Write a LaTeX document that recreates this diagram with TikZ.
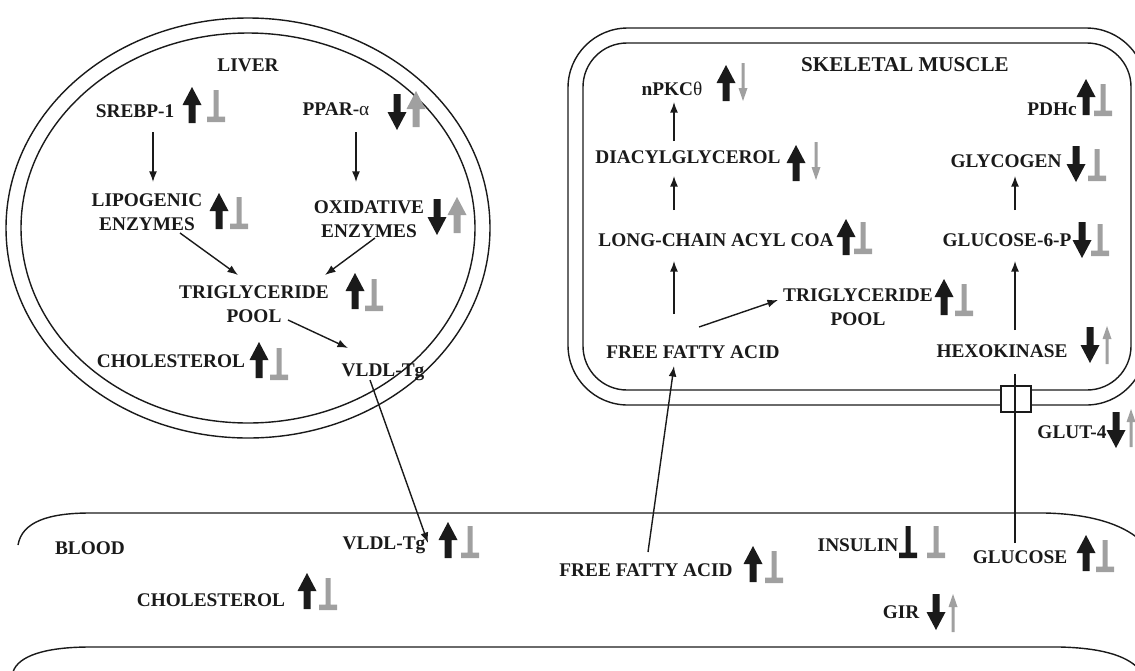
\documentclass[tikz,border=0pt]{standalone}
\usepackage{fontspec}
\setmainfont{Liberation Serif}
\usepackage{xcolor}
\usepackage{tikz}
\usetikzlibrary{math,calc,arrows.meta}
\definecolor{ink}{HTML}{1A1A1A}
\definecolor{pale}{HTML}{A0A0A0}
\tikzset{
	lbl/.style={font=\bfseries\fontsize{11}{14}\selectfont,inner sep=0pt,text depth=0pt,align=center,text=ink},
	flow/.style={-{Latex[length=6pt,width=4.5pt]},line width=0.8pt,draw=ink},
	wall/.style={line width=0.8pt,draw=ink},
	pics/bigup/.style={code={\fill[#1] (0,-18) -- (9.5,0) -- (3.5,0) -- (3.5,18) -- (-3.5,18) -- (-3.5,0) -- (-9.5,0) -- cycle;}},
	pics/bigdown/.style={code={\fill[#1] (0,18) -- (9.5,0) -- (3.5,0) -- (3.5,-18) -- (-3.5,-18) -- (-3.5,0) -- (-9.5,0) -- cycle;}},
	pics/thinup/.style={code={\fill[#1] (0,-19) -- (4.5,-6) -- (1.5,-6) -- (1.5,19) -- (-1.5,19) -- (-1.5,-6) -- (-4.5,-6) -- cycle;}},
	pics/thindown/.style={code={\fill[#1] (0,19) -- (4.5,6) -- (1.5,6) -- (1.5,-19) -- (-1.5,-19) -- (-1.5,6) -- (-4.5,6) -- cycle;}},
	pics/tack/.style={code={\fill[#1] (-2.5,-16) rectangle (2.5,16) (-9,10.5) rectangle (9,16);}},
}
\begin{document}
\begin{tikzpicture}[x=0.02cm,y=-0.02cm]
\clip (0,0) rectangle (1135,670);
\tikzmath{
	\lx = 248;\ly = 228;
	\mx = 568;\my = 28;\mw = 578;\mh = 377;
	% liver and muscle walls
	{\draw[wall] (\lx,\ly) ellipse [x radius=242,y radius=210];};
	{\draw[wall] (\lx,\ly) ellipse [x radius=227,y radius=195];};
	{\draw[wall,rounded corners=34pt] (\mx,\my) rectangle ++(\mw,\mh);};
	{\draw[wall,rounded corners=25pt] (\mx+15,\my+15) rectangle ++(\mw-30,\mh-30);};
	% blood
	{\draw[wall] (18,545) .. controls (22,522) and (48,513) .. (90,513) -- (1045,513) .. controls (1090,514) and (1122,524) .. (1140,540);};
	{\draw[wall] (13,672) .. controls (18,656) and (45,647) .. (90,647) -- (1060,647) .. controls (1100,648) and (1125,655) .. (1138,668);};
	%
	{\node[lbl] (liver) at (248,65) {LIVER};};
	{\node[lbl] (srebp) at (135,111) {SREBP-1};};
	{\node[lbl] (ppar) at (336,109) {PPAR-{\mdseries α}};};
	{\node[lbl] (lipo) at (147,212) {LIPOGENIC\\ENZYMES};};
	{\node[lbl] (oxid) at (369,219) {OXIDATIVE\\ENZYMES};};
	{\node[lbl] (tgl) at (254,304) {TRIGLYCERIDE\\POOL};};
	{\node[lbl] (chl) at (171,361) {CHOLESTEROL};};
	{\node[lbl] (vldll) at (383,370) {VLDL-Tg};};
	%
	{\node[lbl,font=\bfseries\fontsize{12}{14}\selectfont] (muscle) at (905,65) {SKELETAL MUSCLE};};
	{\node[lbl] (npkc) at (672,89) {nPKC{\mdseries θ}};};
	{\node[lbl] (dag) at (688,157) {DIACYLGLYCEROL};};
	{\node[lbl] (lcac) at (716,240) {LONG-CHAIN ACYL COA};};
	{\node[lbl] (tgm) at (858,307) {TRIGLYCERIDE\\POOL};};
	{\node[lbl] (ffam) at (693,352) {FREE FATTY ACID};};
	{\node[lbl] (pdh) at (1052,109) {PDHc};};
	{\node[lbl] (glyc) at (1006,161) {GLYCOGEN};};
	{\node[lbl] (gsp) at (1007,240) {GLUCOSE-6-P};};
	{\node[lbl] (hexo) at (1002,351) {HEXOKINASE};};
	{\node[lbl] (glut) at (1072,432) {GLUT-4};};
	{\node[draw=ink,line width=0.8pt,fill=white,minimum width=17pt,minimum height=15pt,inner sep=0pt] (port) at (1016,399) {};};
	%
	{\node[lbl] (blood) at (90,548) {BLOOD};};
	{\node[lbl] (vldlb) at (384,543) {VLDL-Tg};};
	{\node[lbl] (chb) at (211,600) {CHOLESTEROL};};
	{\node[lbl] (ffab) at (646,570) {FREE FATTY ACID};};
	{\node[lbl] (ins) at (858,545) {INSULIN};};
	{\node[lbl] (glucb) at (1020,557) {GLUCOSE};};
	{\node[lbl] (gir) at (901,612) {GIR};};
	% liver arrows
	{\draw[flow] ($(srebp)+(18,21)$) -- ($(lipo)+(6,-30)$);};
	{\draw[flow] ($(ppar)+(20,23)$) -- ($(oxid)+(-13,-37)$);};
	{\draw[flow] ($(lipo)+(33,21)$) -- ($(tgl)+(-16,-29)$);};
	{\draw[flow] ($(oxid)+(6,19)$) -- ($(tgl)+(71,-29)$);};
	{\draw[flow] ($(tgl)+(34,16)$) -- ($(vldll)+(-35,-22)$);};
	{\draw[flow] ($(vldll)+(-13,10)$) -- ($(vldlb)+(44,0)$);};
	% muscle arrows
	{\draw[flow] ($(dag)+(-14,-16)$) -- ($(npkc)+(2,13)$);};
	{\draw[flow] ($(lcac)+(-42,-30)$) -- ($(dag)+(-14,19)$);};
	{\draw[flow] ($(ffam)+(-19,-38)$) -- ($(lcac)+(-42,21)$);};
	{\draw[flow] ($(ffam)+(6,-25)$) -- ($(tgm)+(-80,-7)$);};
	{\draw[flow] ($(gsp)+(8,-30)$) -- ($(glyc)+(9,15)$);};
	{\draw[flow] ($(hexo)+(13,-21)$) -- ($(gsp)+(8,21)$);};
	{\draw[flow] ($(ffab)+(2,-18)$) -- ($(ffam)+(-19,14)$);};
	{\draw[wall] ($(glucb)+(-5,-14)$) -- ($(hexo)+(13,23)$);};%through port
	% up / down marks
	{\pic at (192,105) {bigup=ink}; \pic at (216,106) {tack=pale};};
	{\pic at (397,112) {bigdown=ink}; \pic at (416,109) {bigup=pale};};
	{\pic at (219,211) {bigup=ink}; \pic at (239,213) {tack=pale};};
	{\pic at (437,217) {bigdown=ink}; \pic at (457,215) {bigup=pale};};
	{\pic at (355,291) {bigup=ink}; \pic at (374,295) {tack=pale};};
	{\pic at (259,360) {bigup=ink}; \pic at (279,364) {tack=pale};};
	{\pic at (726,83) {bigup=ink}; \pic at (743,82) {thindown=pale};};
	{\pic at (796,163) {bigup=ink}; \pic at (816,161) {thindown=pale};};
	{\pic at (846,237) {bigup=ink}; \pic at (863,238) {tack=pale};};
	{\pic at (944,297) {bigup=ink}; \pic at (964,300) {tack=pale};};
	{\pic at (1086,97) {bigup=ink}; \pic at (1103,100) {tack=pale};};
	{\pic at (1076,164) {bigdown=ink}; \pic at (1097,165) {tack=pale};};
	{\pic at (1082,240) {bigdown=ink}; \pic at (1100,240) {tack=pale};};
	{\pic at (1090,345) {bigdown=ink}; \pic at (1107,345) {thinup=pale};};
	{\pic at (1116,430) {bigdown=ink}; \pic at (1131,428) {thinup=pale};};
	{\pic at (448,540) {bigup=ink}; \pic at (470,542) {tack=pale};};
	{\pic at (307,591) {bigup=ink}; \pic at (328,594) {tack=pale};};
	{\pic at (753,564) {bigup=ink}; \pic at (774,567) {tack=pale};};
	{\pic at (908,542) {tack=ink}; \pic at (936,542) {tack=pale};};
	{\pic at (1086,553) {bigup=ink}; \pic at (1105,556) {tack=pale};};
	{\pic at (936,612) {bigdown=ink}; \pic at (953,613) {thinup=pale};};
};
\end{tikzpicture}
\end{document}
